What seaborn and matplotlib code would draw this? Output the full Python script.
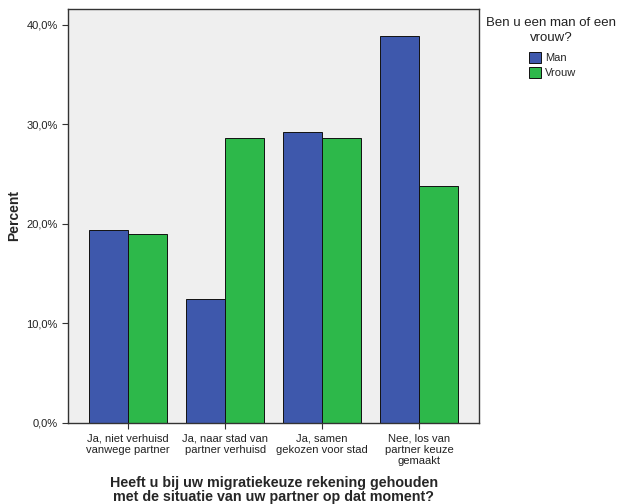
import pandas as pd
import matplotlib.pyplot as plt
import seaborn as sns
from matplotlib.ticker import FuncFormatter

categories = [
    "Ja, niet verhuisd\nvanwege partner",
    "Ja, naar stad van\npartner verhuisd",
    "Ja, samen\ngekozen voor stad",
    "Nee, los van\npartner keuze\ngemaakt",
]
man = [19.4, 12.5, 29.2, 38.9]
vrouw = [19.0, 28.6, 28.6, 23.8]

df = pd.DataFrame({
    "cat": categories * 2,
    "geslacht": ["Man"] * 4 + ["Vrouw"] * 4,
    "pct": man + vrouw,
})

sns.set_style("ticks")
plt.rcParams["font.family"] = ["Liberation Sans", "DejaVu Sans"]

fig = plt.figure(figsize=(6.24, 5.04), dpi=100)
ax = fig.add_axes([0.109, 0.161, 0.659, 0.821])
ax.set_facecolor("#efefef")

sns.barplot(data=df, x="cat", y="pct", hue="geslacht", order=categories,
            palette={"Man": "#3e58ac", "Vrouw": "#2db84a"}, saturation=1,
            width=0.81, edgecolor="#111111", linewidth=0.7, ax=ax)

ax.set_ylim(0, 41.6)
ax.set_yticks([0, 10, 20, 30, 40])
ax.yaxis.set_major_formatter(FuncFormatter(lambda v, p: f"{v:.1f}%".replace(".", ",")))
ax.tick_params(labelsize=8, length=4, color="#333333", labelcolor="#222222")
ax.set_xlim(-0.62, 3.62)

ax.set_ylabel("Percent", fontsize=10, fontweight="bold")
ax.set_xlabel("Heeft u bij uw migratiekeuze rekening gehouden\nmet de situatie van uw partner op dat moment?",
              fontsize=10.3, fontweight="bold", linespacing=1.0, labelpad=7)
for s in ax.spines.values():
    s.set_color("#333333")
    s.set_linewidth(1.0)

# legend: title as separate text, entries below
handles, labels = ax.get_legend_handles_labels()
ax.legend(handles, labels, loc="upper left", bbox_to_anchor=(529 / 624, 1 - 52 / 504),
          bbox_transform=fig.transFigure, frameon=False, fontsize=8,
          borderpad=0, borderaxespad=0, handlelength=1.1, handleheight=1.1,
          handletextpad=0.35, labelspacing=0.35)
fig.text(551 / 624, 1 - 17 / 504, "Ben u een man of een\nvrouw?", ha="center", va="top",
         fontsize=9.5, linespacing=1.35, color="#222222")

fig.savefig("out.png", dpi=100)
